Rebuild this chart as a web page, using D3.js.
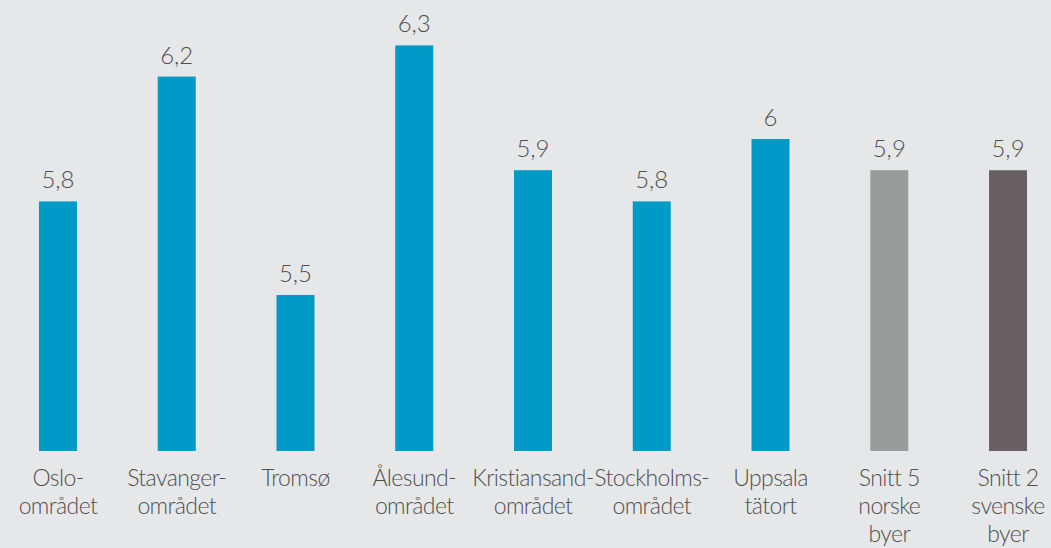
<!DOCTYPE html>
<html>
<head>
<meta charset="utf-8">
<script src="https://cdn.jsdelivr.net/npm/d3@7"></script>
<style>
  html, body { margin: 0; padding: 0; background: #e6e7e9; }
  svg { display: block; }
  text { font-family: Lato, "Open Sans", sans-serif; font-weight: 300; fill: #4f4f4f; }
</style>
</head>
<body>
<svg id="chart" width="1051" height="548"></svg>
<script>
// Category labels (line-broken as printed under each bar)
const categories = [
  ["Oslo-", "området"],
  ["Stavanger-", "området"],
  ["Tromsø"],
  ["Ålesund-", "området"],
  ["Kristiansand-", "området"],
  ["Stockholms-", "området"],
  ["Uppsala", "tätort"],
  ["Snitt 5", "norske", "byer"],
  ["Snitt 2", "svenske", "byer"]
];
const values = [5.8, 6.2, 5.5, 6.3, 5.9, 5.8, 6.0, 5.9, 5.9];
const barColors = ["#009ac7", "#009ac7", "#009ac7", "#009ac7", "#009ac7", "#009ac7", "#009ac7", "#9a9c9c", "#675f61"];
const yDomain = [5.0, 6.3];

const svg = d3.select("#chart");
const plotBottom = 451;
const plotTop = 45.4;

const x = d3.scaleBand()
  .domain(d3.range(values.length))
  .range([-1.4, 1067.4])
  .paddingInner(0.68)
  .paddingOuter(0.34);

const y = d3.scaleLinear().domain(yDomain).range([plotBottom, plotTop]);

const fmt = v => d3.format(".1~f")(v).replace(".", ",");

svg.append("g").selectAll("rect")
  .data(values)
  .join("rect")
  .attr("x", (d, i) => x(i))
  .attr("width", x.bandwidth())
  .attr("y", d => y(d))
  .attr("height", d => plotBottom - y(d))
  .attr("fill", (d, i) => barColors[i]);

svg.append("g").selectAll("text")
  .data(values)
  .join("text")
  .attr("x", (d, i) => x(i) + x.bandwidth() / 2)
  .attr("y", d => y(d) - 13)
  .attr("text-anchor", "middle")
  .attr("font-size", 24)
  .text(d => fmt(d));

const labels = svg.append("g").selectAll("text")
  .data(categories)
  .join("text")
  .attr("x", (d, i) => x(i) + x.bandwidth() / 2)
  .attr("y", 486)
  .attr("text-anchor", "middle")
  .attr("font-size", 23)
  .attr("letter-spacing", -0.6);

labels.selectAll("tspan")
  .data((d, i) => d.map(line => ({ line, i })))
  .join("tspan")
  .attr("x", d => x(d.i) + x.bandwidth() / 2)
  .attr("dy", (d, j) => j === 0 ? 0 : 28)
  .text(d => d.line);
</script>
</body>
</html>
